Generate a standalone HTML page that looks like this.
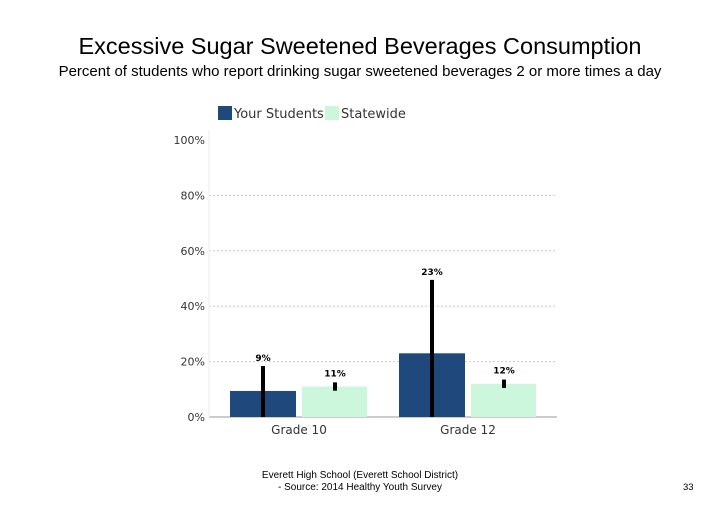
<!DOCTYPE html>
<html><head><meta charset="utf-8"><style>
body{margin:0;background:#fff;width:720px;height:511px;overflow:hidden;font-family:"Liberation Sans",sans-serif}
.t{position:absolute;left:0;width:720px;text-align:center;color:#000;white-space:nowrap}
</style></head><body>
<div class="t" style="top:33px;font-size:23.5px">Excessive Sugar Sweetened Beverages Consumption</div>
<div class="t" style="top:63px;font-size:15px">Percent of students who report drinking sugar sweetened beverages 2 or more times a day</div>
<svg id="c" width="720" height="511" style="position:absolute;left:0;top:0" font-family="DejaVu Sans, Liberation Sans, sans-serif"></svg>
<div style="position:absolute;left:240px;top:470px;width:240px;text-align:center;font-size:10px;line-height:12px">Everett High School (Everett School District)<br>- Source: 2014 Healthy Youth Survey</div>
<div style="position:absolute;left:683px;top:482px;font-size:9.5px">33</div>
<script>
const categories=["Grade 10","Grade 12"];
const yourStudents=[9.4,23];
const statewide=[11,12];
const ysLow=[0,0];
const ysHigh=[18.4,49.5];
const swLow=[9.5,10.5];
const swHigh=[12.5,13.5];
const ysLabels=["9%","23%"];
const swLabels=["11%","12%"];
const yTicks=[0,20,40,60,80,100];
const svg=document.getElementById('c');
const NS='http://www.w3.org/2000/svg';
const x0=209,x1=557,yZero=417,yTop=140;
const y=v=>yZero-(v/100)*(yZero-yTop);
const groupStep=169;
function el(t,a,txt){const e=document.createElementNS(NS,t);for(const k in a)e.setAttribute(k,a[k]);if(txt!==undefined)e.textContent=txt;svg.appendChild(e);return e;}
yTicks.forEach(v=>{
 if(v>0&&v<100){const g=el('line',{x1:x0,x2:x1,y1:y(v),y2:y(v),stroke:'#ccc','stroke-dasharray':'2,2'});
 
 }
 const t=el('text',{x:205,y:y(v)+4,'text-anchor':'end','font-size':11,fill:'#333'},v+'%');
 
 
});
const ax=el('line',{x1:x0,x2:x1,y1:yZero,y2:yZero,stroke:'#999'});


const ay=el('line',{x1:x0,x2:x0,y1:yTop-10,y2:yZero,stroke:'#eee'});


categories.forEach((c,i)=>{
 const gx=x0+21+i*groupStep;
 const bw=66;
 const xa=gx, xb=gx+72;
 const b1=el('rect',{x:xa,y:y(yourStudents[i]),width:bw,height:yZero-y(yourStudents[i]),fill:'#1f497d'});
 
 
 const b2=el('rect',{x:xb,y:y(statewide[i]),width:bw-1,height:yZero-y(statewide[i]),fill:'#ccf7dc'});
 
 
 const e1=el('line',{x1:xa+bw/2,x2:xa+bw/2,y1:y(ysLow[i]),y2:y(ysHigh[i]),stroke:'#000','stroke-width':4});
 
 
 const e2=el('line',{x1:xb+bw/2,x2:xb+bw/2,y1:y(swLow[i]),y2:y(swHigh[i]),stroke:'#000','stroke-width':4});
 
 
 const l1=el('text',{x:xa+bw/2,y:y(ysHigh[i])-5,'text-anchor':'middle','font-size':9,'font-weight':'bold'},ysLabels[i]);
 
 
 const l2=el('text',{x:xb+bw/2,y:y(swHigh[i])-6,'text-anchor':'middle','font-size':9,'font-weight':'bold'},swLabels[i]);
 
 
 const cl=el('text',{x:gx+69,y:434,'text-anchor':'middle','font-size':12,fill:'#333'},c);
 
 
});
const lg=[["Your Students","#1f497d",218],["Statewide","#ccf7dc",325]];
lg.forEach(([n,col,lx])=>{
 const r=el('rect',{x:lx,y:106,width:14,height:14,fill:col});
 
 
 const t=el('text',{x:lx+16,y:118,'font-size':13,fill:'#333'},n);
 
 
});
</script>
</body></html>
